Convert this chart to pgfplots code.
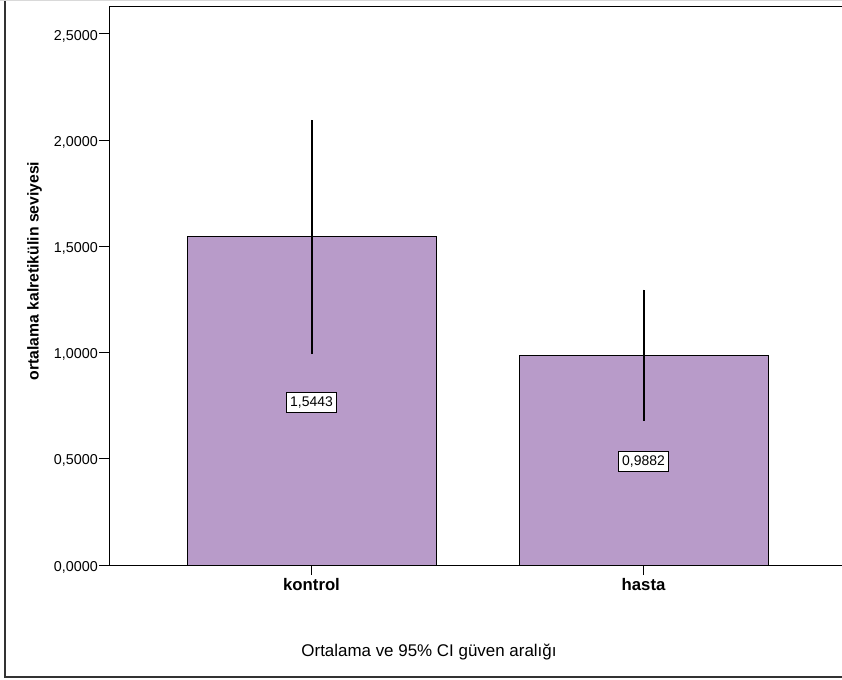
\documentclass[border=0pt]{standalone}
\usepackage{fontspec}
\setmainfont{Liberation Sans}
\usepackage{pgfplots}
\pgfplotsset{compat=1.18}
\definecolor{barc}{RGB}{184,155,201}
\begin{document}
\begin{tikzpicture}
\useasboundingbox (-109bp,-115bp) rectangle (733bp,565bp);
\begin{axis}[
  scale only axis, width=753bp, height=558bp,
  xmin=-0.61, xmax=1.658, ymin=0, ymax=2.627,
  xtick={0,1}, xticklabels={kontrol,hasta},
  ytick={0,0.5,1,1.5,2,2.5},
  xtick pos=lower, ytick pos=left,
  tick align=outside, major tick length=10bp,
  tick style={black, line width=1pt},
  axis line style={black, line width=1pt},
  ybar, bar width=249bp,
  x tick label style={font=\bfseries\fontsize{16.8}{18}\selectfont},
  y tick label style={font=\fontsize{14.4}{16}\selectfont, inner xsep=1bp, yshift=-2bp},
  yticklabel style={/pgf/number format/.cd, fixed, fixed zerofill, precision=4, use comma, assume math mode=true},
  clip=false,
]
\addplot[fill=barc, draw=black, line width=1pt,
  error bars/.cd, y dir=both, y explicit, error mark=none,
  error bar style={line width=2pt, black}]
  coordinates {(0,1.5443) +- (0,0.551) (1,0.9882) +- (0,0.308)};
\node[draw=black, fill=white, line width=0.8pt, inner xsep=3.5bp, inner ysep=4bp,
  font=\fontsize{14}{15}\selectfont] at (axis cs:0,0.765) {1,5443};
\node[draw=black, fill=white, line width=0.8pt, inner xsep=3.5bp, inner ysep=4bp,
  font=\fontsize{14}{15}\selectfont] at (axis cs:1,0.487) {0,9882};
\end{axis}
\node[rotate=90, font=\bfseries\fontsize{15.8}{17}\selectfont] at (-74.5bp,294bp) {ortalama kalretikülin seviyesi};
\node[font=\fontsize{17}{18}\selectfont] at (320bp,-87bp) {Ortalama ve 95\% CI güven aralığı};
\draw[line width=1.5pt, black!80] (-104bp,566bp) -- (-104bp,-112bp) -- (740bp,-112bp);
\draw[line width=1pt, black!15] (-109bp,564.5bp) -- (740bp,564.5bp);
\end{tikzpicture}
\end{document}
